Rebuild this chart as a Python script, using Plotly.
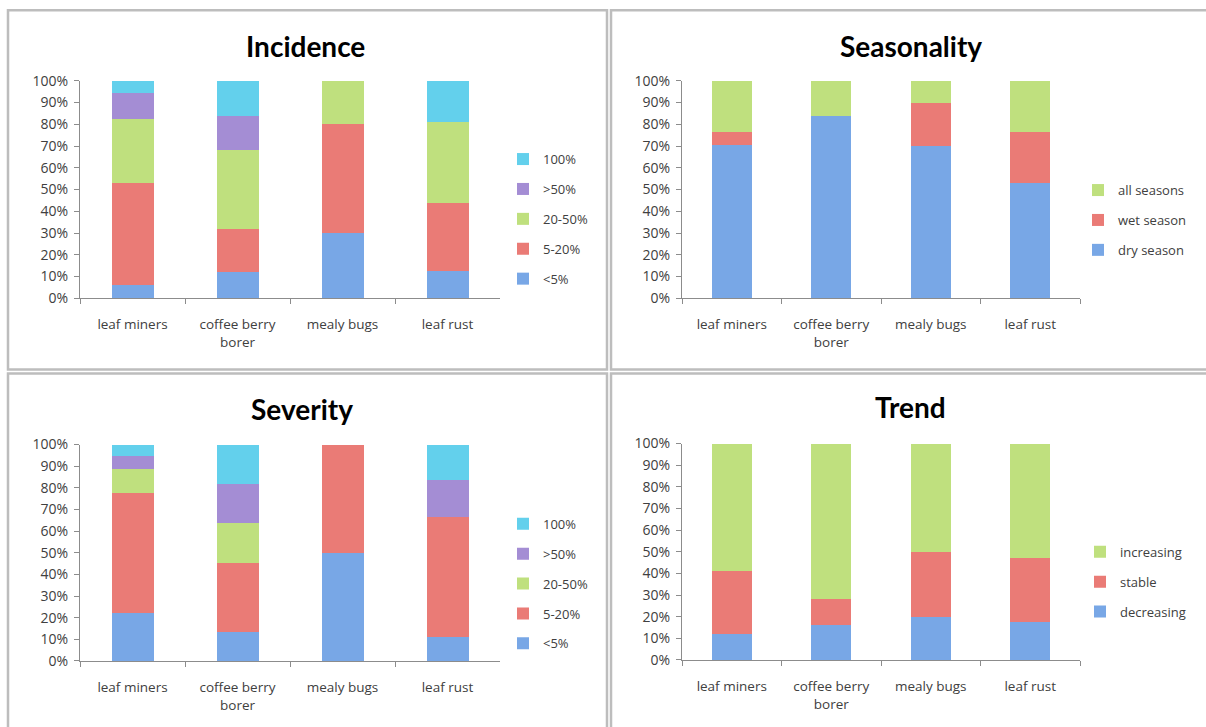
import plotly.graph_objects as go

W, H = 1206, 727

categories = ["leaf miners", "coffee berry<br>borer", "mealy bugs", "leaf rust"]

# Incidence (% of respondents)
incidence_lt5 = [5.9, 12, 30, 12.5]
incidence_5_20 = [47.1, 20, 50, 31.25]
incidence_20_50 = [29.4, 36, 20, 37.5]
incidence_gt50 = [11.8, 16, 0, 0]
incidence_100 = [5.9, 16, 0, 18.75]

# Seasonality
season_dry = [70.6, 84, 70, 52.9]
season_wet = [5.9, 0, 20, 23.5]
season_all = [23.5, 16, 10, 23.6]

# Severity
severity_lt5 = [22.2, 13.6, 50, 11.1]
severity_5_20 = [55.6, 31.8, 50, 55.6]
severity_20_50 = [11.1, 18.2, 0, 0]
severity_gt50 = [5.6, 18.2, 0, 16.7]
severity_100 = [5.5, 18.2, 0, 16.6]

# Trend
trend_dec = [11.8, 16, 20, 17.6]
trend_stable = [29.4, 12, 30, 29.4]
trend_inc = [58.8, 72, 50, 53.0]

level_names = ["<5%", "5-20%", "20-50%", ">50%", "100%"]
season_names = ["dry season", "wet season", "all seasons"]
trend_names = ["decreasing", "stable", "increasing"]

BLUE, RED, GREEN, PURPLE, CYAN = "#78a7e6", "#ea7b76", "#bfe07e", "#a48dd4", "#63d0ec"

# screen-pixel -> paper conversion (vertical calibrated to the rendered page)
VOFF, VSCALE = 10.3, 0.972

def px_x(p):
    return p / W

def px_y(p):
    return 1 - ((p - VOFF) / VSCALE) / H

fig = go.Figure()

panels = [
    ("", "legend", list(zip(level_names,
                            [incidence_lt5, incidence_5_20, incidence_20_50, incidence_gt50, incidence_100],
                            [BLUE, RED, GREEN, PURPLE, CYAN])),
     (80, 500), (298, 81), 503, 219),
    ("2", "legend2", list(zip(season_names, [season_dry, season_wet, season_all], [BLUE, RED, GREEN])),
     (682, 1080), (298, 81), 1078, 220),
    ("3", "legend3", list(zip(level_names,
                              [severity_lt5, severity_5_20, severity_20_50, severity_gt50, severity_100],
                              [BLUE, RED, GREEN, PURPLE, CYAN])),
     (80, 500), (660, 444), 503, 583),
    ("4", "legend4", list(zip(trend_names, [trend_dec, trend_stable, trend_inc], [BLUE, RED, GREEN])),
     (682, 1080), (659, 443), 1080, 581),
]

FONT = "Open Sans, Liberation Sans, sans-serif"
layout = dict(
    width=W, height=H, margin=dict(l=0, r=0, t=0, b=0),
    paper_bgcolor="white", plot_bgcolor="white",
    barmode="stack", bargap=0.6, showlegend=True,
    font=dict(family=FONT, color="#404040"),
)

for i, (suf, leg, series, xd, yd, lx, lmid) in enumerate(panels):
    xa = "x" + suf
    ya = "y" + suf
    for j, (name, vals, col) in enumerate(series):
        fig.add_trace(go.Bar(
            x=categories, y=vals, name=name, marker=dict(color=col, line=dict(width=0)),
            xaxis=xa, yaxis=ya, legend=leg, legendgroup=f"{leg}_{j}", legendrank=100 - j,
        ))
    xkey = "xaxis" + suf
    ykey = "yaxis" + suf
    layout[xkey] = dict(
        domain=[px_x(xd[0]), px_x(xd[1])], anchor=ya,
        showline=True, linecolor="#8c8c8c", linewidth=1,
        ticks="outside", tickson="boundaries", ticklen=5, tickcolor="#8c8c8c",
        ticklabelstandoff=14,
        tickfont=dict(size=13.5, color="#404040"), showgrid=False, fixedrange=True,
    )
    layout[ykey] = dict(
        domain=[px_y(yd[0]), px_y(yd[1])], anchor=xa, range=[0, 100],
        dtick=10, ticksuffix="%", showline=True, linecolor="#8c8c8c", linewidth=1,
        ticks="outside", ticklen=5, tickcolor="#8c8c8c", showgrid=False, zeroline=False,
        ticklabelstandoff=3,
        tickfont=dict(size=14, color="#404040"), fixedrange=True,
    )
    layout[leg] = dict(
        x=px_x(lx), xanchor="left", y=px_y(lmid), yanchor="middle",
        traceorder="grouped", tracegroupgap=10,
        bgcolor="rgba(0,0,0,0)", borderwidth=0,
        font=dict(size=13, color="#404040"),
    )

fig.update_layout(**layout)

titles = [("Incidence", 305, 46), ("Seasonality", 911, 46), ("Severity", 302, 409), ("Trend", 911, 407)]
for t, x, y in titles:
    fig.add_annotation(text=f"<b>{t}</b>", x=px_x(x), y=px_y(y), xref="paper", yref="paper",
                       xanchor="center", yanchor="middle", showarrow=False,
                       font=dict(size=28, color="#000000", family="Lato, Open Sans, sans-serif"))

frames = [(8, 10.5, 607, 369), (611, 10.5, 1212, 369), (8, 373, 607, 745), (611, 373, 1212, 745)]
for x0, y0, x1, y1 in frames:
    fig.add_shape(type="rect", xref="paper", yref="paper",
                  x0=px_x(x0), x1=px_x(x1), y0=px_y(y0), y1=px_y(y1),
                  line=dict(color="#bdbdbd", width=2.5), fillcolor="rgba(0,0,0,0)", layer="below")

fig.write_html(
    "out.html",
    config={"displayModeBar": False},
    post_script="document.body.style.margin='0';document.body.style.overflow='hidden';",
)
